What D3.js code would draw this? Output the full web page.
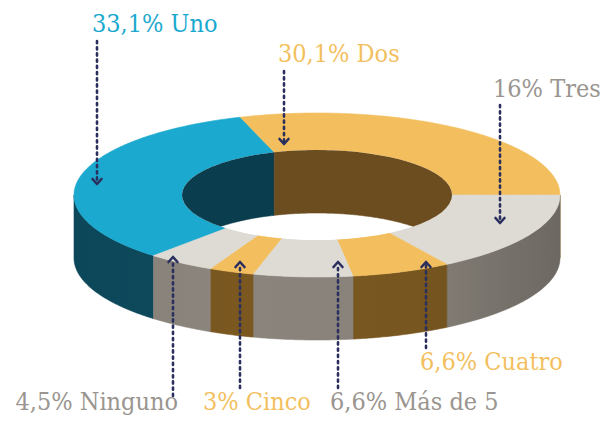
<!DOCTYPE html>
<html>
<head>
<meta charset="utf-8">
<script src="https://cdn.jsdelivr.net/npm/d3@7"></script>
<style>
  html, body { margin: 0; padding: 0; background: #ffffff; }
  svg { display: block; }
  .lbl { font-family: "DejaVu Serif", serif; font-stretch: condensed; font-size: 25px; }
</style>
</head>
<body>
<svg id="chart" width="609" height="421"></svg>
<script>
// Number of children per household (share of respondents)
const categories = ["Uno", "Dos", "Tres", "Cuatro", "Más de 5", "Cinco", "Ninguno"];
const values = [33.1, 30.1, 16, 6.6, 6.6, 3, 4.5];
const valueLabels = ["33,1%", "30,1%", "16%", "6,6%", "6,6%", "3%", "4,5%"];

// Palette: top face, outer side wall, inner wall
const topColors  = ["#1ba9cf", "#f3bf5e", "#dedad4", "#f3bf5e", "#dedad4", "#f3bf5e", "#dedad4"];
const sideColors = ["#0d4a5e", "#7a5820", "#88827a", "#7a5820", "#8a847c", "#7a5820", "#8c867e"];
const wallColors = ["#0a3d4d", "#6b4d1f", "#6e6a64", "#6b4d1f", "#6e6a64", "#6b4d1f", "#6e6a64"];
const textColors = ["#1ba9cf", "#f3bf5e", "#9a958f", "#f3bf5e", "#9a958f", "#f3bf5e", "#9a958f"];

// Ring geometry (projected ellipse)
const cx = 317, cy = 195;
const rxOuter = 243, ryOuter = 82;
const rxInner = 135, ryInner = 45;
const depth = 63;

// Annotation layout: label anchor and leader line (x, y1 -> y2 where the arrow sits)
const annotations = {
  "Uno":      { tx: 92,  ty: 32,  anchor: "start", lx: 97,  ly0: 41,  ly1: 184, dir: "down" },
  "Dos":      { tx: 278, ty: 62,  anchor: "start", lx: 284, ly0: 71,  ly1: 144, dir: "down" },
  "Tres":     { tx: 493, ty: 97,  anchor: "start", lx: 500, ly0: 105, ly1: 223, dir: "down" },
  "Cuatro":   { tx: 420, ty: 370, anchor: "start", lx: 426, ly0: 348, ly1: 262, dir: "up" },
  "Más de 5": { tx: 330, ty: 410, anchor: "start", lx: 338, ly0: 388, ly1: 262, dir: "up" },
  "Cinco":    { tx: 203, ty: 410, anchor: "start", lx: 240, ly0: 388, ly1: 262, dir: "up" },
  "Ninguno":  { tx: 178, ty: 410, anchor: "end",   lx: 173, ly0: 396, ly1: 257, dir: "up" }
};

const svg = d3.select("#chart");
const TAU = Math.PI * 2;

const data = categories.map((c, i) => ({ name: c, value: values[i], label: valueLabels[i], i }));

// Slices go clockwise from the top, Uno first
const pie = d3.pie().sort(null).value(d => d.value)
  .startAngle(-137.7 * Math.PI / 180)
  .endAngle(-137.7 * Math.PI / 180 + TAU);
const arcs = pie(data);

// Angle (clockwise from 12 o'clock) -> projected point
const xAt = d3.scaleLinear().domain([-1, 1]);
function pt(a, rx, ry, dy) {
  return [cx + rx * Math.sin(a), cy - ry * Math.cos(a) + dy];
}
function arcPts(a0, a1, rx, ry, dy) {
  const n = Math.max(2, Math.ceil(Math.abs(a1 - a0) / 0.01));
  return d3.range(n + 1).map(k => pt(a0 + (a1 - a0) * k / n, rx, ry, dy));
}
// Intersection of [a0,a1] with [lo,hi], trying full-turn shifts
function clipRange(a0, a1, lo, hi) {
  for (const k of [-1, 0, 1]) {
    const s = a0 + k * TAU, e = a1 + k * TAU;
    const s2 = Math.max(s, lo), e2 = Math.min(e, hi);
    if (e2 > s2) return [s2, e2];
  }
  return null;
}
const line = d3.line().curve(d3.curveLinear);

const defs = svg.append("defs");
defs.append("clipPath").attr("id", "hole")
  .append("ellipse").attr("cx", cx).attr("cy", cy).attr("rx", rxInner).attr("ry", ryInner);

const sideShade = defs.append("linearGradient").attr("id", "sideShade")
  .attr("gradientUnits", "userSpaceOnUse")
  .attr("x1", cx - rxOuter).attr("x2", cx + rxOuter).attr("y1", 0).attr("y2", 0);
[[0, 0.05], [0.35, 0.0], [0.7, 0.02], [1, 0.2]].forEach(([o, a]) =>
  sideShade.append("stop").attr("offset", o).attr("stop-color", "#000").attr("stop-opacity", a));

// Outer side wall (front half only)
const sides = svg.append("g");
arcs.forEach(d => {
  const r = clipRange(d.startAngle, d.endAngle, Math.PI / 2, 3 * Math.PI / 2);
  if (!r) return;
  const pts = arcPts(r[0], r[1], rxOuter, ryOuter, 0)
    .concat(arcPts(r[1], r[0], rxOuter, ryOuter, depth));
  sides.append("path").attr("d", line(pts) + "Z")
    .attr("fill", sideColors[d.data.i])
    .attr("stroke", sideColors[d.data.i]).attr("stroke-width", 0.6);
});
// Soft shading across the outer wall
const fullSide = arcPts(Math.PI / 2, 3 * Math.PI / 2, rxOuter, ryOuter, 0)
  .concat(arcPts(3 * Math.PI / 2, Math.PI / 2, rxOuter, ryOuter, depth));
sides.append("path").attr("d", line(fullSide) + "Z").attr("fill", "url(#sideShade)");

// Top faces
const tops = svg.append("g");
arcs.forEach(d => {
  const pts = arcPts(d.startAngle, d.endAngle, rxOuter, ryOuter, 0)
    .concat(arcPts(d.endAngle, d.startAngle, rxInner, ryInner, 0));
  tops.append("path").attr("d", line(pts) + "Z")
    .attr("fill", topColors[d.data.i])
    .attr("stroke", topColors[d.data.i]).attr("stroke-width", 0.6);
});

// Hole: far inner wall visible above the bottom opening
const hole = svg.append("g").attr("clip-path", "url(#hole)");
hole.append("ellipse").attr("cx", cx).attr("cy", cy).attr("rx", rxInner).attr("ry", ryInner).attr("fill", "#ffffff");
arcs.forEach(d => {
  const r = clipRange(d.startAngle, d.endAngle, -Math.PI / 2, Math.PI / 2);
  if (!r) return;
  const pts = arcPts(r[0], r[1], rxInner, ryInner, 0)
    .concat(arcPts(r[1], r[0], rxInner, ryInner, depth));
  hole.append("path").attr("d", line(pts) + "Z")
    .attr("fill", wallColors[d.data.i])
    .attr("stroke", wallColors[d.data.i]).attr("stroke-width", 0.6);
});

// Leader lines with chevron arrow heads
const leaders = svg.append("g").attr("stroke", "#2b2f5e").attr("fill", "none")
  .attr("stroke-linecap", "round");
data.forEach(d => {
  const a = annotations[d.name];
  const dir = a.dir === "down" ? 1 : -1;
  leaders.append("line")
    .attr("x1", a.lx).attr("x2", a.lx)
    .attr("y1", a.ly0).attr("y2", a.ly1 - dir * 3)
    .attr("stroke-width", 2.6)
    .attr("stroke-dasharray", "2.2 4");
  leaders.append("path")
    .attr("d", line([[a.lx - 4.5, a.ly1 - dir * 5], [a.lx, a.ly1], [a.lx + 4.5, a.ly1 - dir * 5]]))
    .attr("stroke-width", 2.6).attr("stroke-linejoin", "round");
});

// Labels
svg.append("g").selectAll("text").data(data).join("text")
  .attr("class", "lbl")
  .attr("x", d => annotations[d.name].tx)
  .attr("y", d => annotations[d.name].ty)
  .attr("text-anchor", d => annotations[d.name].anchor)
  .attr("fill", d => textColors[d.i])
  .attr("xml:space", "preserve")
  .text(d => d.label + "\u00a0" + d.name);
</script>
</body>
</html>
